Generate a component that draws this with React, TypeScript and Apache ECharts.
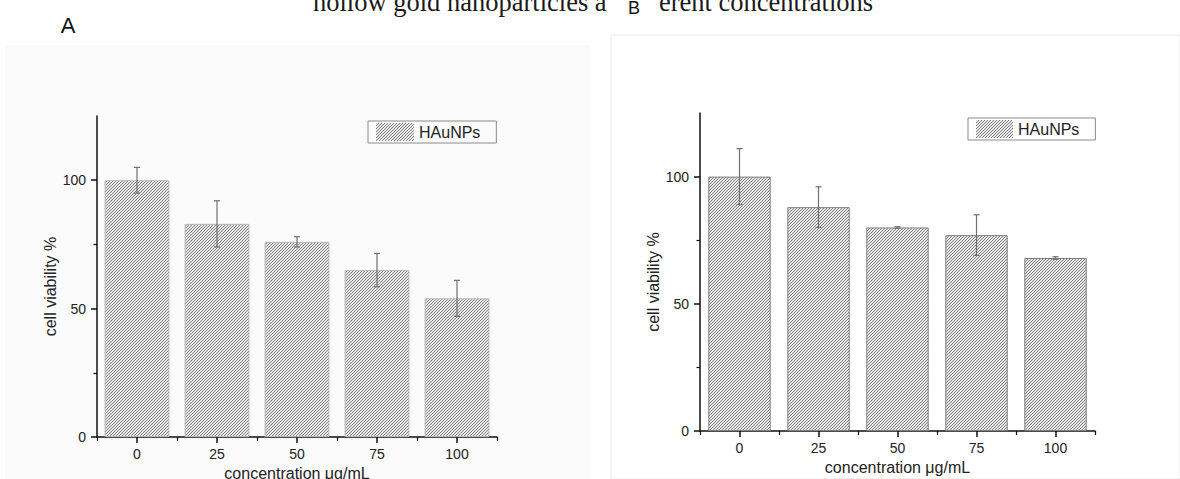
import React, { useEffect, useRef } from "react";
import * as echarts from "echarts";

const categories = ["0", "25", "50", "75", "100"];
const viabilityA = [100, 83, 76, 65, 54];
const errorA = [5, 9, 2, 6.5, 7];
const viabilityB = [100, 88, 80, 77, 68];
const errorB = [11, 8, 0.3, 8, 0.5];
const yMajorTicks = [0, 50, 100];
const yMinorTicks = [25, 75];
const seriesName = "HAuNPs";
const xName = "concentration \u03bcg/mL";
const yName = "cell viability %";
const captionLeft = "hollow gold nanoparticles a";
const captionRight = "erent concentrations";

const SANS = "Liberation Sans";

function makeHatch(bg: string, fg: string) {
  const c = document.createElement("canvas");
  c.width = 3;
  c.height = 3;
  const ctx = c.getContext("2d")!;
  ctx.fillStyle = bg;
  ctx.fillRect(0, 0, 3, 3);
  ctx.strokeStyle = fg;
  ctx.lineWidth = 0.9;
  ctx.beginPath();
  ctx.moveTo(0, 3); ctx.lineTo(3, 0);
  ctx.moveTo(-1, 1); ctx.lineTo(1, -1);
  ctx.moveTo(2, 4); ctx.lineTo(4, 2);
  ctx.stroke();
  return c;
}

export default function App() {
  const ref = useRef<HTMLDivElement>(null);
  useEffect(() => {
    if (!ref.current) return;
    const chart = echarts.init(ref.current, undefined, { renderer: "svg" });
    const hatch = makeHatch("#ececec", "#6e6e6e");
    const pattern = { image: hatch as any, repeat: "repeat" };

    const errRender = (params: any, api: any) => {
      const x = api.value(0);
      const v = api.value(1);
      const e = api.value(2);
      const hi = api.coord([x, v + e]);
      const lo = api.coord([x, v - e]);
      const w = 3;
      const st = { stroke: "#707070", lineWidth: 1.2 };
      return {
        type: "group",
        children: [
          { type: "line", shape: { x1: hi[0], y1: hi[1], x2: lo[0], y2: lo[1] }, style: st },
          { type: "line", shape: { x1: hi[0] - w, y1: hi[1], x2: hi[0] + w, y2: hi[1] }, style: st },
          { type: "line", shape: { x1: lo[0] - w, y1: lo[1], x2: lo[0] + w, y2: lo[1] }, style: st },
        ],
      };
    };

    const mainX = (gridIndex: number) => ({
      type: "category",
      gridIndex,
      data: categories,
      boundaryGap: true,
      name: xName,
      nameLocation: "middle",
      nameGap: 28,
      nameTextStyle: { fontSize: 16, fontFamily: SANS, color: "#222" },
      axisLine: { show: true, lineStyle: { color: "#111", width: 1.5 } },
      axisTick: { show: true, alignWithLabel: true, length: 6, lineStyle: { color: "#111", width: 1.5 } },
      axisLabel: { fontSize: 14, fontFamily: SANS, color: "#222", margin: 10 },
      splitLine: { show: false },
    });
    const boundX = (gridIndex: number) => ({
      type: "category",
      gridIndex,
      data: categories,
      boundaryGap: true,
      position: "bottom",
      axisLine: { show: false },
      axisTick: { show: true, alignWithLabel: false, length: 4, lineStyle: { color: "#111", width: 1.2 } },
      axisLabel: { show: false },
      splitLine: { show: false },
    });
    const mainY = (gridIndex: number, nameGap: number) => ({
      type: "value",
      gridIndex,
      min: 0,
      max: 125,
      interval: 50,
      name: yName,
      nameLocation: "middle",
      nameGap,
      nameTextStyle: { fontSize: 16, fontFamily: SANS, color: "#222", padding: [0, 20, 0, 0] },
      axisLine: { show: true, lineStyle: { color: "#111", width: 1.5 } },
      axisTick: { show: true, length: 6, customValues: yMajorTicks, lineStyle: { color: "#111", width: 1.5 } },
      axisLabel: { fontSize: 14, fontFamily: SANS, color: "#222", margin: 11, customValues: yMajorTicks },
      splitLine: { show: false },
    });
    const minorY = (gridIndex: number) => ({
      type: "value",
      gridIndex,
      min: 0,
      max: 125,
      position: "left",
      axisLine: { show: false },
      axisTick: { show: true, length: 3.5, customValues: yMinorTicks, lineStyle: { color: "#111", width: 1.2 } },
      axisLabel: { show: false },
      splitLine: { show: false },
    });

    const legendBase = {
      data: [seriesName],
      orient: "horizontal",
      icon: "rect",
      itemHeight: 18,
      padding: [2, 16, 2, 8],
      borderColor: "#8a8a8a",
      borderWidth: 1,
      selectedMode: false,
      textStyle: { fontSize: 16, fontFamily: SANS, color: "#222" },
      itemStyle: { borderWidth: 0 },
    };

    chart.setOption({
      animation: false,
      backgroundColor: "#ffffff",
      grid: [
        { left: 97, top: 116, width: 400, height: 321, outerBoundsMode: "none" },
        { left: 700, top: 113, width: 395, height: 318, outerBoundsMode: "none" },
      ],
      xAxis: [mainX(0), boundX(0), mainX(1), boundX(1)],
      yAxis: [mainY(0, 37), minorY(0), mainY(1, 34), minorY(1)],
      legend: [
        { ...legendBase, left: 368, top: 121, itemWidth: 38 },
        { ...legendBase, left: 968, top: 118, itemWidth: 37 },
      ],
      series: [
        {
          type: "bar",
          name: seriesName,
          xAxisIndex: 0,
          yAxisIndex: 0,
          data: viabilityA,
          barWidth: "81%",
          itemStyle: { color: pattern, borderColor: "#b8b8b8", borderWidth: 1 },
        },
        {
          type: "custom",
          name: "errorA",
          xAxisIndex: 0,
          yAxisIndex: 0,
          renderItem: errRender,
          encode: { x: 0, y: 1 },
          data: viabilityA.map((v, i) => [i, v, errorA[i]]),
          z: 5,
        },
        {
          type: "bar",
          name: seriesName,
          xAxisIndex: 2,
          yAxisIndex: 2,
          data: viabilityB,
          barWidth: "79%",
          itemStyle: { color: pattern, borderColor: "#808080", borderWidth: 1 },
        },
        {
          type: "custom",
          name: "errorB",
          xAxisIndex: 2,
          yAxisIndex: 2,
          renderItem: errRender,
          encode: { x: 0, y: 1 },
          data: viabilityB.map((v, i) => [i, v, errorB[i]]),
          z: 5,
        },
      ],
      graphic: [
        { type: "rect", z: -10, silent: true, shape: { x: 5, y: 45, width: 585, height: 434 }, style: { fill: "#fbfbfb" } },
        { type: "rect", z: -10, silent: true, shape: { x: 611, y: 35, width: 569, height: 444 }, style: { fill: "#ffffff", stroke: "#ebebeb", lineWidth: 1 } },
        {
          type: "text", z: 10, silent: true, x: 313, y: 2,
          style: { text: captionLeft, fontSize: 26.5, fontFamily: "Liberation Serif", fill: "#1a1a1a", verticalAlign: "middle", align: "left" },
        },
        {
          type: "text", z: 10, silent: true, x: 659, y: 2,
          style: { text: captionRight, fontSize: 26.5, fontFamily: "Liberation Serif", fill: "#1a1a1a", verticalAlign: "middle", align: "left" },
        },
        {
          type: "text", z: 12, silent: true, x: 634, y: 8,
          style: { text: "B", fontSize: 18, fontFamily: SANS, fill: "#111", align: "center", verticalAlign: "middle" },
        },
        {
          type: "text", z: 12, silent: true, x: 68, y: 25,
          style: { text: "A", fontSize: 22, fontFamily: SANS, fill: "#111", align: "center", verticalAlign: "middle" },
        },
      ],
    });
    return () => chart.dispose();
  }, []);
  return <div ref={ref} style={{ position: "fixed", left: 0, top: 0, width: 1180, height: 479 }} />;
}
